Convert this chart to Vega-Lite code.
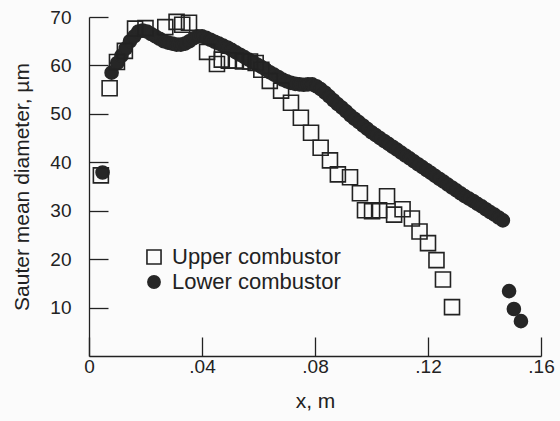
{
  "$schema": "https://vega.github.io/schema/vega-lite/v6.json",
  "width": 452,
  "height": 339,
  "autosize": "none",
  "padding": {"left": 89, "top": 17, "right": 19, "bottom": 65},
  "background": "#fbfbfb",
  "config": {
    "view": {"stroke": null},
    "font": "Liberation Sans",
    "axis": {"grid": false, "domainColor": "#222", "tickColor": "#222", "labelColor": "#222", "titleColor": "#222", "labelFontSize": 19, "titleFontSize": 21, "titleFontWeight": "normal", "domainWidth": 1.3, "tickWidth": 1.3},
    "legend": {"title": null, "orient": "none", "legendX": 54, "legendY": 229, "labelFontSize": 22, "labelColor": "#222", "rowPadding": 3, "symbolSize": 150, "symbolStrokeWidth": 1.6, "labelOffset": 7, "padding": 0, "labelLimit": 400}
  },
  "data": {"values": [
    {"series": "Lower combustor", "x": 0.0048, "y": 37.9},
    {"series": "Lower combustor", "x": 0.008, "y": 58.5},
    {"series": "Lower combustor", "x": 0.010, "y": 60.5},
    {"series": "Lower combustor", "x": 0.0115, "y": 62},
    {"series": "Lower combustor", "x": 0.013, "y": 63.5},
    {"series": "Lower combustor", "x": 0.0145, "y": 65},
    {"series": "Lower combustor", "x": 0.016, "y": 66},
    {"series": "Lower combustor", "x": 0.0175, "y": 67},
    {"series": "Lower combustor", "x": 0.019, "y": 67.2},
    {"series": "Lower combustor", "x": 0.0205, "y": 67},
    {"series": "Lower combustor", "x": 0.022, "y": 66.5},
    {"series": "Lower combustor", "x": 0.0235, "y": 66},
    {"series": "Lower combustor", "x": 0.025, "y": 65.5},
    {"series": "Lower combustor", "x": 0.0265, "y": 65},
    {"series": "Lower combustor", "x": 0.028, "y": 64.7},
    {"series": "Lower combustor", "x": 0.0295, "y": 64.5},
    {"series": "Lower combustor", "x": 0.031, "y": 64.3},
    {"series": "Lower combustor", "x": 0.0325, "y": 64.3},
    {"series": "Lower combustor", "x": 0.034, "y": 64.5},
    {"series": "Lower combustor", "x": 0.0355, "y": 65},
    {"series": "Lower combustor", "x": 0.037, "y": 65.6},
    {"series": "Lower combustor", "x": 0.0385, "y": 66},
    {"series": "Lower combustor", "x": 0.040, "y": 66},
    {"series": "Lower combustor", "x": 0.0415, "y": 65.7},
    {"series": "Lower combustor", "x": 0.043, "y": 65.3},
    {"series": "Lower combustor", "x": 0.0445, "y": 64.9},
    {"series": "Lower combustor", "x": 0.046, "y": 64.5},
    {"series": "Lower combustor", "x": 0.0475, "y": 64.1},
    {"series": "Lower combustor", "x": 0.049, "y": 63.7},
    {"series": "Lower combustor", "x": 0.0505, "y": 63.2},
    {"series": "Lower combustor", "x": 0.052, "y": 62.7},
    {"series": "Lower combustor", "x": 0.0535, "y": 62.2},
    {"series": "Lower combustor", "x": 0.055, "y": 61.7},
    {"series": "Lower combustor", "x": 0.0565, "y": 61.2},
    {"series": "Lower combustor", "x": 0.058, "y": 60.7},
    {"series": "Lower combustor", "x": 0.0595, "y": 60.2},
    {"series": "Lower combustor", "x": 0.061, "y": 59.7},
    {"series": "Lower combustor", "x": 0.0625, "y": 59.2},
    {"series": "Lower combustor", "x": 0.064, "y": 58.6},
    {"series": "Lower combustor", "x": 0.0655, "y": 58.1},
    {"series": "Lower combustor", "x": 0.067, "y": 57.6},
    {"series": "Lower combustor", "x": 0.0685, "y": 57.1},
    {"series": "Lower combustor", "x": 0.070, "y": 56.7},
    {"series": "Lower combustor", "x": 0.0715, "y": 56.4},
    {"series": "Lower combustor", "x": 0.073, "y": 56.2},
    {"series": "Lower combustor", "x": 0.0745, "y": 56.1},
    {"series": "Lower combustor", "x": 0.076, "y": 56},
    {"series": "Lower combustor", "x": 0.0775, "y": 56.1},
    {"series": "Lower combustor", "x": 0.079, "y": 56.1},
    {"series": "Lower combustor", "x": 0.0805, "y": 55.7},
    {"series": "Lower combustor", "x": 0.082, "y": 55.1},
    {"series": "Lower combustor", "x": 0.0835, "y": 54.4},
    {"series": "Lower combustor", "x": 0.085, "y": 53.6},
    {"series": "Lower combustor", "x": 0.0865, "y": 52.8},
    {"series": "Lower combustor", "x": 0.088, "y": 52},
    {"series": "Lower combustor", "x": 0.0895, "y": 51.3},
    {"series": "Lower combustor", "x": 0.091, "y": 50.5},
    {"series": "Lower combustor", "x": 0.0925, "y": 49.7},
    {"series": "Lower combustor", "x": 0.094, "y": 49},
    {"series": "Lower combustor", "x": 0.0955, "y": 48.3},
    {"series": "Lower combustor", "x": 0.097, "y": 47.6},
    {"series": "Lower combustor", "x": 0.0985, "y": 46.9},
    {"series": "Lower combustor", "x": 0.100, "y": 46.2},
    {"series": "Lower combustor", "x": 0.1015, "y": 45.6},
    {"series": "Lower combustor", "x": 0.103, "y": 45},
    {"series": "Lower combustor", "x": 0.1045, "y": 44.4},
    {"series": "Lower combustor", "x": 0.106, "y": 43.8},
    {"series": "Lower combustor", "x": 0.1075, "y": 43.2},
    {"series": "Lower combustor", "x": 0.109, "y": 42.6},
    {"series": "Lower combustor", "x": 0.1105, "y": 42},
    {"series": "Lower combustor", "x": 0.112, "y": 41.4},
    {"series": "Lower combustor", "x": 0.1135, "y": 40.8},
    {"series": "Lower combustor", "x": 0.115, "y": 40.2},
    {"series": "Lower combustor", "x": 0.1165, "y": 39.6},
    {"series": "Lower combustor", "x": 0.118, "y": 39},
    {"series": "Lower combustor", "x": 0.1195, "y": 38.4},
    {"series": "Lower combustor", "x": 0.121, "y": 37.8},
    {"series": "Lower combustor", "x": 0.1225, "y": 37.2},
    {"series": "Lower combustor", "x": 0.124, "y": 36.6},
    {"series": "Lower combustor", "x": 0.1255, "y": 36},
    {"series": "Lower combustor", "x": 0.127, "y": 35.4},
    {"series": "Lower combustor", "x": 0.1285, "y": 34.8},
    {"series": "Lower combustor", "x": 0.130, "y": 34.2},
    {"series": "Lower combustor", "x": 0.1315, "y": 33.6},
    {"series": "Lower combustor", "x": 0.133, "y": 33},
    {"series": "Lower combustor", "x": 0.1345, "y": 32.5},
    {"series": "Lower combustor", "x": 0.136, "y": 32},
    {"series": "Lower combustor", "x": 0.1375, "y": 31.4},
    {"series": "Lower combustor", "x": 0.139, "y": 30.9},
    {"series": "Lower combustor", "x": 0.1405, "y": 30.3},
    {"series": "Lower combustor", "x": 0.142, "y": 29.7},
    {"series": "Lower combustor", "x": 0.1435, "y": 29.2},
    {"series": "Lower combustor", "x": 0.145, "y": 28.6},
    {"series": "Lower combustor", "x": 0.1465, "y": 28},
    {"series": "Lower combustor", "x": 0.1487, "y": 13.4},
    {"series": "Lower combustor", "x": 0.1504, "y": 9.7},
    {"series": "Lower combustor", "x": 0.1529, "y": 7.2},
    {"series": "Upper combustor", "x": 0.0042, "y": 37.3},
    {"series": "Upper combustor", "x": 0.0073, "y": 55.3},
    {"series": "Upper combustor", "x": 0.0099, "y": 60.7},
    {"series": "Upper combustor", "x": 0.0127, "y": 63},
    {"series": "Upper combustor", "x": 0.0163, "y": 67.6},
    {"series": "Upper combustor", "x": 0.020, "y": 67.7},
    {"series": "Upper combustor", "x": 0.027, "y": 67.9},
    {"series": "Upper combustor", "x": 0.031, "y": 69},
    {"series": "Upper combustor", "x": 0.033, "y": 68.4},
    {"series": "Upper combustor", "x": 0.0354, "y": 68.8},
    {"series": "Upper combustor", "x": 0.0418, "y": 62.8},
    {"series": "Upper combustor", "x": 0.0453, "y": 60.3},
    {"series": "Upper combustor", "x": 0.047, "y": 61.2},
    {"series": "Upper combustor", "x": 0.0495, "y": 61},
    {"series": "Upper combustor", "x": 0.052, "y": 61},
    {"series": "Upper combustor", "x": 0.0545, "y": 60.8},
    {"series": "Upper combustor", "x": 0.057, "y": 60.8},
    {"series": "Upper combustor", "x": 0.059, "y": 60.5},
    {"series": "Upper combustor", "x": 0.061, "y": 59.1},
    {"series": "Upper combustor", "x": 0.064, "y": 56.8},
    {"series": "Upper combustor", "x": 0.068, "y": 54.8},
    {"series": "Upper combustor", "x": 0.0715, "y": 52.3},
    {"series": "Upper combustor", "x": 0.075, "y": 49.2},
    {"series": "Upper combustor", "x": 0.0786, "y": 46.1},
    {"series": "Upper combustor", "x": 0.082, "y": 43},
    {"series": "Upper combustor", "x": 0.0853, "y": 40.4},
    {"series": "Upper combustor", "x": 0.0881, "y": 37.5},
    {"series": "Upper combustor", "x": 0.0924, "y": 36.9},
    {"series": "Upper combustor", "x": 0.0959, "y": 33.6},
    {"series": "Upper combustor", "x": 0.0977, "y": 30.1},
    {"series": "Upper combustor", "x": 0.1002, "y": 29.9},
    {"series": "Upper combustor", "x": 0.1027, "y": 30.1},
    {"series": "Upper combustor", "x": 0.1055, "y": 33},
    {"series": "Upper combustor", "x": 0.108, "y": 29.2},
    {"series": "Upper combustor", "x": 0.111, "y": 30.3},
    {"series": "Upper combustor", "x": 0.1143, "y": 28.4},
    {"series": "Upper combustor", "x": 0.117, "y": 25.7},
    {"series": "Upper combustor", "x": 0.120, "y": 23.3},
    {"series": "Upper combustor", "x": 0.123, "y": 19.8},
    {"series": "Upper combustor", "x": 0.1253, "y": 15.8},
    {"series": "Upper combustor", "x": 0.1285, "y": 10.1}
  ]},
  "mark": {"type": "point", "opacity": 1, "strokeWidth": 1.6, "size": 170},
  "encoding": {
    "x": {
      "field": "x", "type": "quantitative",
      "scale": {"domain": [0, 0.16], "nice": false, "zero": false},
      "axis": {
        "title": "x, m",
        "values": [0, 0.04, 0.08, 0.12, 0.16],
        "labelExpr": "datum.value == 0 ? '0' : replace(format(datum.value, '.2f'), /^0/, '')",
        "tickSize": -19,
        "labelPadding": 20,
        "titlePadding": 14,
        "labelFlush": false,
        "encode": {
          "labels": {"update": {"dx": {"signal": "datum.value == 0 ? -19 : 0"}}},
          "ticks": {"update": {"strokeOpacity": {"signal": "datum.value == 0 ? 0 : 1"}}}
        }
      }
    },
    "y": {
      "field": "y", "type": "quantitative",
      "scale": {"domain": [0, 70], "nice": false},
      "axis": {
        "title": "Sauter mean diameter, µm",
        "values": [10, 20, 30, 40, 50, 60, 70],
        "tickSize": -19,
        "labelPadding": 37,
        "titlePadding": 17,
        "labelFlush": false
      }
    },
    "shape": {
      "field": "series", "type": "nominal",
      "scale": {"domain": ["Upper combustor", "Lower combustor"], "range": ["M-1.15,-1.15H1.15V1.15H-1.15Z", "circle"]}
    },
    "fill": {
      "field": "series", "type": "nominal",
      "scale": {"domain": ["Upper combustor", "Lower combustor"], "range": ["transparent", "#262626"]}
    },
    "stroke": {
      "field": "series", "type": "nominal",
      "scale": {"domain": ["Upper combustor", "Lower combustor"], "range": ["#222", "#262626"]}
    }
  }
}
